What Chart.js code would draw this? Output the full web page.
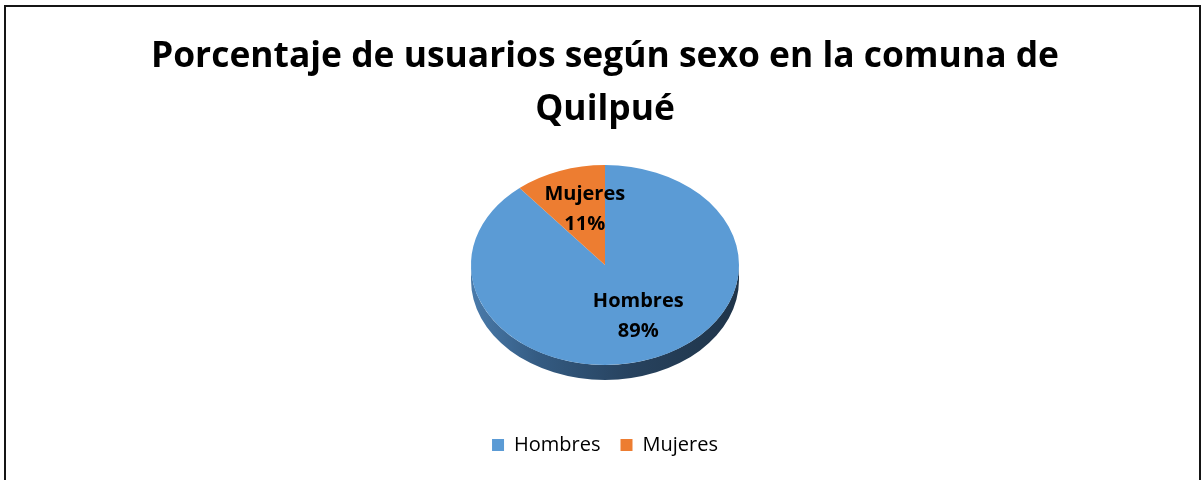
<!DOCTYPE html>
<html>
<head>
<meta charset="utf-8">
<script src="https://cdn.jsdelivr.net/npm/chart.js@4"></script>
<style>
  html, body { margin: 0; padding: 0; background: #fff; }
  #wrap { position: relative; width: 1202px; height: 480px; overflow: hidden; }
  #c { position: absolute; left: 0; top: 0; }
  #frame { position: absolute; left: 4px; top: 5px; width: 1193px; height: 600px; border: 2px solid #151515; pointer-events: none; }
</style>
</head>
<body>
<div id="wrap">
  <canvas id="c" width="1202" height="480"></canvas>
  <div id="frame"></div>
</div>
<script>
const titleLines = ['Porcentaje de usuarios según sexo en la comuna de', 'Quilpué'];
const categories = ['Hombres', 'Mujeres'];
const values = [89, 11];
const colors = ['#5B9BD5', '#ED7D31'];

const FONT = '"Open Sans", "Liberation Sans", sans-serif';
const PIE = { cx: 605, cy: 265, r: 134, sy: 0.746, depth: 15 };

function clipFront(a1, a2) {
  const out = [];
  for (let k = -1; k <= 1; k++) {
    const lo = Math.max(a1, k * 2 * Math.PI), hi = Math.min(a2, k * 2 * Math.PI + Math.PI);
    if (hi > lo) out.push([lo, hi]);
  }
  return out;
}

const pie3d = {
  id: 'pie3d',
  beforeDatasetsDraw(chart) {
    const ctx = chart.ctx;
    const meta = chart.getDatasetMeta(0);
    const a0 = meta.data[0];
    const R = a0.outerRadius;
    const ry = R * PIE.sy;
    const g = ctx.createLinearGradient(PIE.cx - R, 0, PIE.cx + R, 0);
    g.addColorStop(0, '#4a7bab');
    g.addColorStop(0.25, '#345b82');
    g.addColorStop(0.6, '#27425e');
    g.addColorStop(1, '#1f3449');
    ctx.save();
    meta.data.forEach((arc) => {
      clipFront(arc.startAngle, arc.endAngle).forEach(([lo, hi]) => {
        ctx.beginPath();
        ctx.ellipse(PIE.cx, PIE.cy, R, ry, 0, lo, hi, false);
        ctx.ellipse(PIE.cx, PIE.cy + PIE.depth, R, ry, 0, hi, lo, true);
        ctx.closePath();
        ctx.fillStyle = g;
        ctx.fill();
      });
    });
    ctx.restore();
    ctx.save();
    ctx.translate(PIE.cx, PIE.cy);
    ctx.scale(1, PIE.sy);
    ctx.translate(-a0.x, -a0.y);
  },
  afterDatasetsDraw(chart) {
    const ctx = chart.ctx;
    ctx.restore();
    const meta = chart.getDatasetMeta(0);
    const data = chart.data.datasets[0].data;
    const total = data.reduce((s, v) => s + v, 0);
    ctx.save();
    ctx.fillStyle = '#000';
    ctx.font = 'bold 20px ' + FONT;
    ctx.textAlign = 'center';
    ctx.textBaseline = 'middle';
    const nudge = [[6, -5], [7, 1]];
    meta.data.forEach((arc, i) => {
      const mid = (arc.startAngle + arc.endAngle) / 2;
      const rr = arc.outerRadius * 0.6;
      const x = PIE.cx + rr * Math.cos(mid) + nudge[i][0];
      const y = PIE.cy + rr * PIE.sy * Math.sin(mid) + nudge[i][1];
      ctx.fillText(chart.data.labels[i], x, y - 15);
      ctx.fillText(Math.round(data[i] / total * 100) + '%', x, y + 15);
    });
    ctx.restore();
  }
};

new Chart(document.getElementById('c'), {
  type: 'pie',
  data: {
    labels: categories,
    datasets: [{
      data: values,
      backgroundColor: colors,
      borderWidth: 0,
      radius: PIE.r
    }]
  },
  options: {
    responsive: false,
    animation: false,
    events: [],
    layout: { padding: { left: 8, right: 0, top: 0, bottom: 15 } },
    plugins: {
      title: {
        display: true,
        text: titleLines,
        color: '#000',
        font: { family: FONT, size: 35.4, weight: 'bold', lineHeight: 1.48 },
        padding: { top: 31, bottom: 10 }
      },
      legend: {
        position: 'bottom',
        labels: {
          color: '#000',
          boxWidth: 12,
          boxHeight: 12,
          padding: 20,
          font: { family: FONT, size: 20 }
        }
      },
      tooltip: { enabled: false }
    }
  },
  plugins: [pie3d]
});
</script>
</body>
</html>
